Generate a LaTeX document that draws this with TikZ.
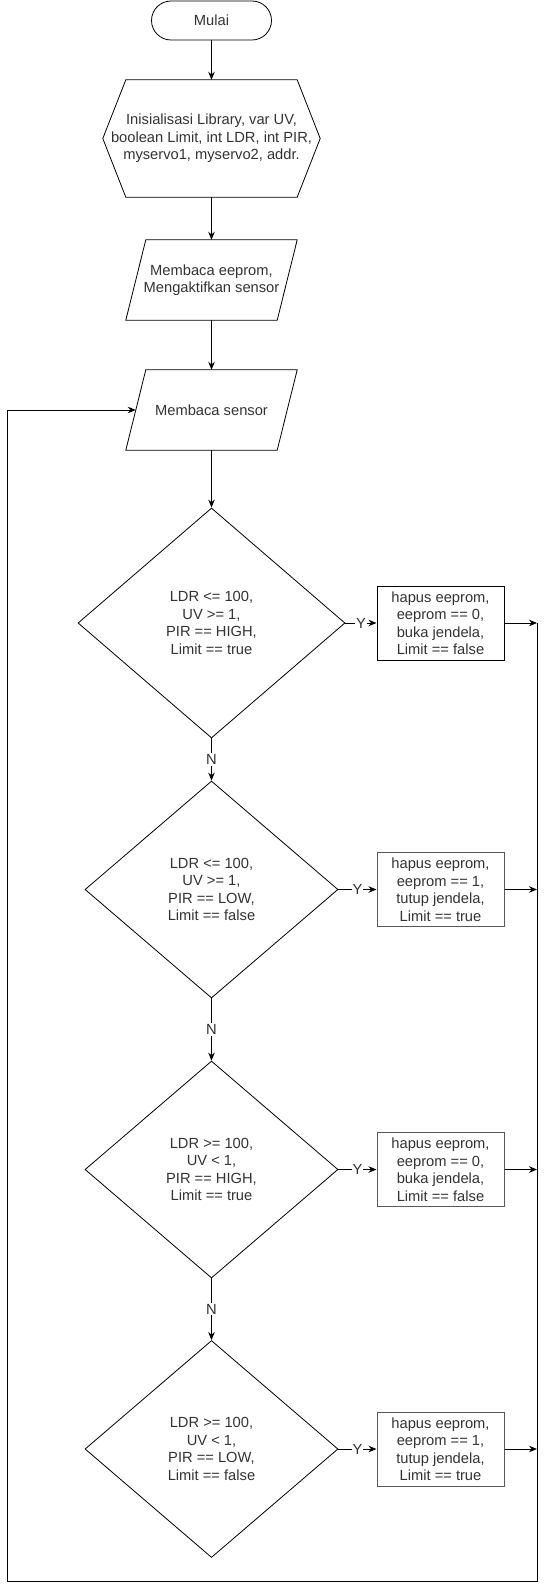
\documentclass[tikz,border=0pt]{standalone}
\usepackage{fontspec}
\setmainfont{Liberation Sans}
\usetikzlibrary{shapes.geometric,arrows.meta,calc}
\begin{document}
\begin{tikzpicture}[x=1pt,y=-1pt,
  every node/.style={font=\fontsize{14.7}{17.5}\selectfont, text=black!80},
  shp/.style={draw=black, line width=0.8pt},
  arr/.style={draw=black, line width=1pt, -{Stealth[length=8pt,width=6.5pt]}},
  plain/.style={draw=black, line width=1pt},
  lbl/.style={fill=white, inner sep=1pt},
  bodybox/.style={minimum width=#1, inner sep=0pt, align=center},
  dec/.style={diamond, shp, inner sep=0pt, align=center},
  act/.style={rectangle, draw=black!65, line width=1pt, minimum width=127pt, minimum height=74pt, inner sep=0pt, align=center},
]
\useasboundingbox (0,0) rectangle (546,1589);

% start
\node[shp, rounded corners=19.5pt, minimum width=120pt, minimum height=39pt, inner sep=0pt] (start) at (211.5,20.5) {Mulai};

% hexagon (preparation)
\node[bodybox=217pt, minimum height=117pt] (init) at (211.5,138.5)
  {Inisialisasi Library, var UV,\\ boolean Limit, int LDR, int PIR,\\ myservo1, myservo2, addr.};
\draw[shp] ([xshift=23pt]init.north west) -- ([xshift=-23pt]init.north east) -- (init.east)
  -- ([xshift=-23pt]init.south east) -- ([xshift=23pt]init.south west) -- (init.west) -- cycle;

% parallelograms
\node[bodybox=171pt, minimum height=80pt] (p1) at (211.5,280) {Membaca eeprom,\\ Mengaktifkan sensor};
\draw[shp] ([xshift=20pt]p1.north west) -- (p1.north east) -- ([xshift=-20pt]p1.south east) -- (p1.south west) -- cycle;

\node[bodybox=171pt, minimum height=80pt] (p2) at (211.5,410) {Membaca sensor};
\draw[shp] ([xshift=20pt]p2.north west) -- (p2.north east) -- ([xshift=-20pt]p2.south east) -- (p2.south west) -- cycle;

% decisions
\node[dec, minimum width=267pt, minimum height=230pt] (d1) at (211.5,623)
  {LDR <= 100,\\ UV >= 1,\\ PIR == HIGH,\\ Limit == true};
\node[dec, minimum width=253pt, minimum height=217pt] (d2) at (211.5,889.5)
  {LDR <= 100,\\ UV >= 1,\\ PIR == LOW,\\ Limit == false};
\node[dec, minimum width=253pt, minimum height=217pt] (d3) at (211.5,1169.5)
  {LDR >= 100,\\ UV < 1,\\ PIR == HIGH,\\ Limit == true};
\node[dec, minimum width=253pt, minimum height=217pt] (d4) at (211.5,1449)
  {LDR >= 100,\\ UV < 1,\\ PIR == LOW,\\ Limit == false};

% actions
\node[act, draw=black] (b1) at (440.5,623) {hapus eeprom,\\ eeprom == 0,\\ buka jendela,\\ Limit == false};
\node[act] (b2) at (440.5,889.5) {hapus eeprom,\\ eeprom == 1,\\ tutup jendela,\\ Limit == true};
\node[act] (b3) at (440.5,1169.5) {hapus eeprom,\\ eeprom == 0,\\ buka jendela,\\ Limit == false};
\node[act] (b4) at (440.5,1449) {hapus eeprom,\\ eeprom == 1,\\ tutup jendela,\\ Limit == true};

% right collector and loop points
\coordinate (r1) at (537,623);
\coordinate (r2) at (537,889.5);
\coordinate (r3) at (537,1169.5);
\coordinate (r4) at (537,1449);
\coordinate (rb) at (537,1581);
\coordinate (lb) at (7,1581);

% main flow
\draw[arr] (start) -- (init);
\draw[arr] (init) -- (p1);
\draw[arr] (p1) -- (p2);
\draw[arr] (p2) -- (d1);
\draw[arr] (d1) -- node[lbl] {N} (d2);
\draw[arr] (d2) -- node[lbl] {N} (d3);
\draw[arr] (d3) -- node[lbl] {N} (d4);

% yes branches
\draw[arr] (d1.east) -- node[lbl] {Y} (b1.west);
\draw[arr] (d2.east) -- node[lbl] {Y} (b2.west);
\draw[arr] (d3.east) -- node[lbl] {Y} (b3.west);
\draw[arr] (d4.east) -- node[lbl] {Y} (b4.west);

\draw[arr] (b1.east) -- (r1);
\draw[arr] (b2.east) -- (r2);
\draw[arr] (b3.east) -- (r3);
\draw[arr] (b4.east) -- (r4);

% loop back
\draw[arr] (r1) -- (rb) -- (lb) |- ($(p2.west)+(10,0)$);
\end{tikzpicture}
\end{document}
